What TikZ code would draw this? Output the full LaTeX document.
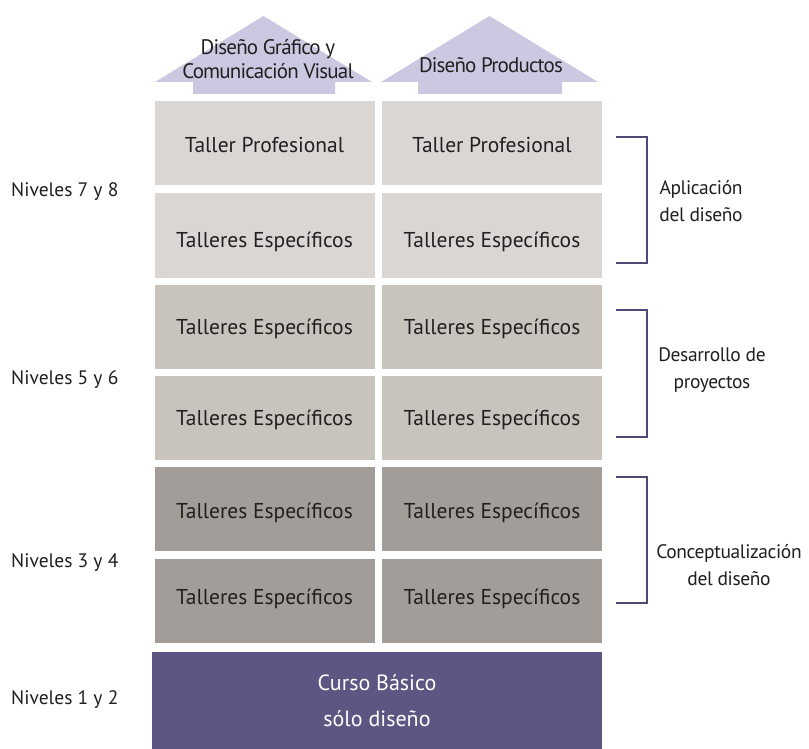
\documentclass[tikz,border=0pt]{standalone}
\usepackage{fontspec}
\setmainfont{PT Sans}
\definecolor{rowA}{HTML}{D9D6D3}
\definecolor{rowB}{HTML}{C9C3BE}
\definecolor{rowC}{HTML}{A29D99}
\definecolor{basecol}{HTML}{5D5682}
\definecolor{arrowcol}{HTML}{CBC8E2}
\definecolor{brackcol}{HTML}{4E4A78}
\definecolor{txt}{HTML}{231F20}
\tikzset{
  cell/.style={rectangle, inner sep=0pt, minimum width=220pt, minimum height=84pt},
  ctext/.style={inner sep=0pt, text=txt, font=\fontsize{21.5}{24}\selectfont},
  lvl/.style={anchor=west, inner sep=0pt, text=txt, font=\fontsize{19.5}{22}\selectfont},
  stage/.style={align=center, inner sep=0pt, text=txt, font=\fontsize{19.5}{27}\selectfont\addfontfeatures{LetterSpace=-2}},
  head/.style={align=center, inner sep=0pt, text=txt, font=\fontsize{21}{24}\selectfont\addfontfeatures{LetterSpace=-4}},
  brack/.style={draw=brackcol, line width=1.3pt},
  arrowshape/.style={fill=arrowcol}
}
\begin{document}
\begin{tikzpicture}[x=1pt,y=-1pt]
\useasboundingbox (0,0) rectangle (809,749);
\fill[white] (0,0) rectangle (809,749);
% header arrows
\fill[arrowshape] (193,94) -- (193,82) -- (155,82) -- (263.5,16) -- (372,82) -- (335,82) -- (335,94) -- cycle;
\fill[arrowshape] (418,94) -- (418,82) -- (381,82) -- (489.5,16) -- (598,82) -- (562,82) -- (562,94) -- cycle;
\node[head] (hA) at (268,59) {Diseño Gráfico y\\Comunicación Visual};
\node[head] (hB) at (491,65) {Diseño Productos};
% grid
\node[cell, fill=rowA] (a1) at (264.5,143) {};
\node[cell, fill=rowA] (b1) at (492,143) {};
\node[cell, fill=rowA] (a2) at (264.5,235.5) {};
\node[cell, fill=rowA] (b2) at (492,235.5) {};
\node[cell, fill=rowB] (a3) at (264.5,326.5) {};
\node[cell, fill=rowB] (b3) at (492,326.5) {};
\node[cell, fill=rowB] (a4) at (264.5,418) {};
\node[cell, fill=rowB] (b4) at (492,418) {};
\node[cell, fill=rowC] (a5) at (264.5,509) {};
\node[cell, fill=rowC] (b5) at (492,509) {};
\node[cell, fill=rowC] (a6) at (264.5,600.5) {};
\node[cell, fill=rowC] (b6) at (492,600.5) {};
\node[ctext] (ta1) at ([yshift=-2pt]a1.center) {Taller Profesional};
\node[ctext] (tb1) at ([yshift=-2pt]b1.center) {Taller Profesional};
\node[ctext] (ta2) at ([yshift=-6pt]a2.center) {Talleres Específicos};
\node[ctext] (tb2) at ([yshift=-6pt]b2.center) {Talleres Específicos};
\node[ctext] (ta3) at ([yshift=-2pt]a3.center) {Talleres Específicos};
\node[ctext] (tb3) at ([yshift=-2pt]b3.center) {Talleres Específicos};
\node[ctext] (ta4) at ([yshift=-2pt]a4.center) {Talleres Específicos};
\node[ctext] (tb4) at ([yshift=-2pt]b4.center) {Talleres Específicos};
\node[ctext] (ta5) at ([yshift=-4pt]a5.center) {Talleres Específicos};
\node[ctext] (tb5) at ([yshift=-4pt]b5.center) {Talleres Específicos};
\node[ctext] (ta6) at ([yshift=2pt]a6.center) {Talleres Específicos};
\node[ctext] (tb6) at ([yshift=2pt]b6.center) {Talleres Específicos};
\node[rectangle, inner sep=0pt, minimum width=450pt, minimum height=97pt, fill=basecol, text=white, align=center, font=\fontsize{22}{36}\selectfont] (base) at (377,700.5) {Curso Básico\\sólo diseño};
% level labels
\node[lvl] (l1) at (11,192) {Niveles 7 y 8};
\node[lvl] (l2) at (11,380) {Niveles 5 y 6};
\node[lvl] (l3) at (11,563) {Niveles 3 y 4};
\node[lvl] (l4) at (11,700) {Niveles 1 y 2};
% brackets
\coordinate (k1t) at (616,137); \coordinate (k1b) at (616,263);
\coordinate (k2t) at (616,310); \coordinate (k2b) at (616,437);
\coordinate (k3t) at (616,477); \coordinate (k3b) at (616,603);
\draw[brack] (k1t) -- ++(31,0) |- (k1b);
\draw[brack] (k2t) -- ++(31,0) |- (k2b);
\draw[brack] (k3t) -- ++(31,0) |- (k3b);
\node[stage] (s1) at (701,201) {Aplicación\\del diseño};
\node[stage] (s2) at (712,370) {Desarrollo de\\proyectos};
\node[stage] (s3) at (729,565) {Conceptualización\\del diseño};
\end{tikzpicture}
\end{document}
